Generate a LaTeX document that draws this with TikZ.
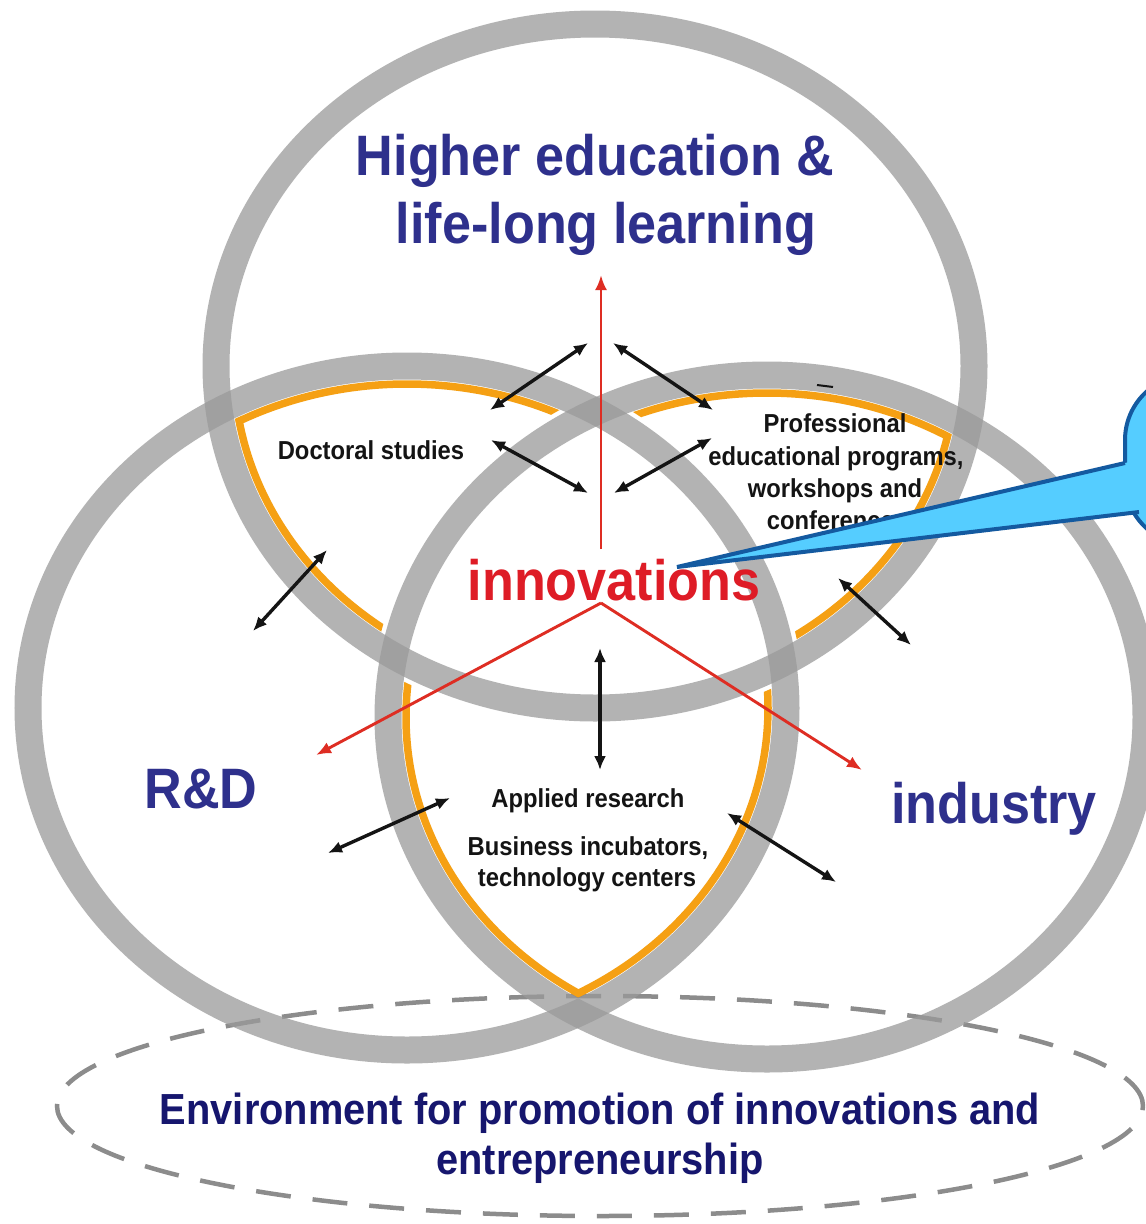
\documentclass[tikz,border=0pt]{standalone}
\usepackage{fontspec}
\usepackage{graphicx}
\setmainfont{Liberation Sans}
\newcommand{\narrowbold}[1]{\scalebox{0.915}[1]{\bfseries #1}}
\usetikzlibrary{arrows.meta,calc}
\definecolor{ringgray}{RGB}{154,154,154}
\definecolor{orng}{RGB}{245,160,20}
\definecolor{titleblue}{RGB}{46,48,140}
\definecolor{navy}{RGB}{22,22,110}
\definecolor{innored}{RGB}{222,28,38}
\definecolor{arrred}{RGB}{222,45,35}
\definecolor{callfill}{RGB}{85,205,255}
\definecolor{callline}{RGB}{20,90,160}
\definecolor{dashgray}{RGB}{140,140,140}
\definecolor{txtblack}{RGB}{20,20,20}
\begin{document}
\begin{tikzpicture}[x=1pt,y=-1pt,
  ring/.style={draw=ringgray, draw opacity=0.75, line width=27pt},
  orangeline/.style={draw=orng, line width=7.5pt},
  envdash/.style={draw=dashgray, line width=4.5pt, dash pattern=on 35pt off 22pt},
  dbl/.style={draw=txtblack, line width=3.4pt, {Latex[length=14pt,width=12pt]}-{Latex[length=14pt,width=12pt]}},
  redarr/.style={draw=arrred, line width=2.9pt, -{Latex[length=15pt,width=12pt]}},
  bigtext/.style={font=\fontsize{57}{62}\selectfont, text=titleblue, inner sep=0pt, anchor=base},
  innotext/.style={font=\fontsize{57}{62}\selectfont, text=innored, inner sep=0pt, anchor=base},
  smalltext/.style={font=\fontsize{26}{31}\selectfont, text=txtblack, inner sep=0pt, anchor=base},
  envtext/.style={font=\fontsize{43.5}{50}\selectfont, text=navy, inner sep=0pt, anchor=base},
  callbody/.style={draw=callline, fill=callfill, line width=4pt, rounded corners=65pt},
]
\useasboundingbox (0,0) rectangle (1146,1224);
\clip (0,0) rectangle (1146,1224);
\fill[white] (0,0) rectangle (1146,1224);

% environment (dashed ellipse)
\draw[envdash] (600,1106) ellipse [x radius=543pt, y radius=110pt];

% three rings
\draw[ring] (595,366) ellipse [x radius=379pt, y radius=342pt];
\draw[ring] (407,708) ellipse [x radius=379pt, y radius=342pt];
\draw[ring] (767,717) ellipse [x radius=379pt, y radius=342pt];

% orange border: top-left region (top and left, not right)
\begin{scope}
  \clip (0,0) -- (767,0) -- (767,357) arc[start angle=90, end angle=270, x radius=397pt, y radius=360pt] -- (0,1077) -- cycle;
  \begin{scope}
    \clip (595,366) ellipse [x radius=364.5pt, y radius=327.5pt];
    \draw[orangeline] (407,708) ellipse [x radius=361pt, y radius=324pt];
  \end{scope}
  \begin{scope}
    \clip (407,708) ellipse [x radius=364.5pt, y radius=327.5pt];
    \draw[orangeline] (595,366) ellipse [x radius=361pt, y radius=324pt];
  \end{scope}
\end{scope}
% orange border: top-right region (top and right, not left)
\begin{scope}
  \clip (407,348) arc[start angle=90, end angle=-90, x radius=397pt, y radius=360pt] -- (1146,1068) -- (1146,0) -- (407,0) -- cycle;
  \begin{scope}
    \clip (595,366) ellipse [x radius=364.5pt, y radius=327.5pt];
    \draw[orangeline] (767,717) ellipse [x radius=361pt, y radius=324pt];
  \end{scope}
  \begin{scope}
    \clip (767,717) ellipse [x radius=364.5pt, y radius=327.5pt];
    \draw[orangeline] (595,366) ellipse [x radius=361pt, y radius=324pt];
  \end{scope}
\end{scope}
% orange border: bottom region (left and right, not top)
\begin{scope}
  \clip (0,366) -- (198,366) arc[start angle=180, end angle=360, x radius=397pt, y radius=360pt] -- (1146,366) -- (1146,1224) -- (0,1224) -- cycle;
  \begin{scope}
    \clip (407,708) ellipse [x radius=364.5pt, y radius=327.5pt];
    \draw[orangeline] (767,717) ellipse [x radius=361pt, y radius=324pt];
  \end{scope}
  \begin{scope}
    \clip (767,717) ellipse [x radius=364.5pt, y radius=327.5pt];
    \draw[orangeline] (407,708) ellipse [x radius=361pt, y radius=324pt];
  \end{scope}
\end{scope}
\draw[txtblack, line width=2pt] (817,385) -- (833,387);

% texts
\node[bigtext] (he1) at (595,175) {\narrowbold{Higher education \&}};
\node[bigtext] (he2) at (606,243) {\narrowbold{life-long learning}};
\node[bigtext] (rd) at (201,808) {\narrowbold{R\&D}};
\node[bigtext] (ind) at (994,823) {\narrowbold{industry}};
\node[innotext] (innov) at (614,600) {\narrowbold{innovations}};
\node[smalltext] (doc) at (371,459) {\narrowbold{Doctoral studies}};
\node[smalltext] (pr1) at (835,432) {\narrowbold{Professional}};
\node[smalltext] (pr2) at (836,465) {\narrowbold{educational programs,}};
\node[smalltext] (pr3) at (835,497) {\narrowbold{workshops and}};
\node[smalltext] (pr4) at (837,529) {\narrowbold{conferences}};
\node[smalltext] (ap1) at (588,807) {\narrowbold{Applied research}};
\node[smalltext] (ap2) at (588,855) {\narrowbold{Business incubators,}};
\node[smalltext] (ap3) at (587,886) {\narrowbold{technology centers}};
\node[envtext] (env1) at (600,1124) {\narrowbold{Environment for promotion of innovations and}};
\node[envtext] (env2) at (600,1174) {\narrowbold{entrepreneurship}};

% black double arrows
\coordinate (a1s) at (490,410); \coordinate (a1e) at (588,343);
\coordinate (a2s) at (613,343); \coordinate (a2e) at (713,410);
\coordinate (a3s) at (491,440); \coordinate (a3e) at (588,493);
\coordinate (a4s) at (614,493); \coordinate (a4e) at (712,438);
\coordinate (a5s) at (253,631); \coordinate (a5e) at (327,550);
\coordinate (a6s) at (838,578); \coordinate (a6e) at (911,645);
\coordinate (a7s) at (600,648); \coordinate (a7e) at (600,770);
\coordinate (a8s) at (328,853); \coordinate (a8e) at (450,798);
\coordinate (a9s) at (727,813); \coordinate (a9e) at (836,882);
\foreach \i in {1,...,9} { \draw[dbl] (a\i s) -- (a\i e); }

% red arrows from innovations
\coordinate (rvs) at (601,549); \coordinate (rtop) at (601,275);
\coordinate (rds) at (601,603);
\coordinate (rleft) at (316,755); \coordinate (rright) at (862,770);
\draw[redarr] (rvs) -- (rtop);
\draw[redarr] (rds) -- (rleft);
\draw[redarr] (rds) -- (rright);

% callout
\coordinate (ctip) at (677,567);
\coordinate (cb1) at (1125,463);
\coordinate (cb2) at (1139,512);
\draw[callbody] (1125,375) rectangle (1420,545);
\fill[callfill] (ctip) -- ($(ctip)!1.08!(cb1)$) -- ($(ctip)!1.05!(cb2)$) -- cycle;
\draw[callline, line width=4pt, line join=miter] (cb1) -- (ctip) -- (cb2);
\end{tikzpicture}
\end{document}
